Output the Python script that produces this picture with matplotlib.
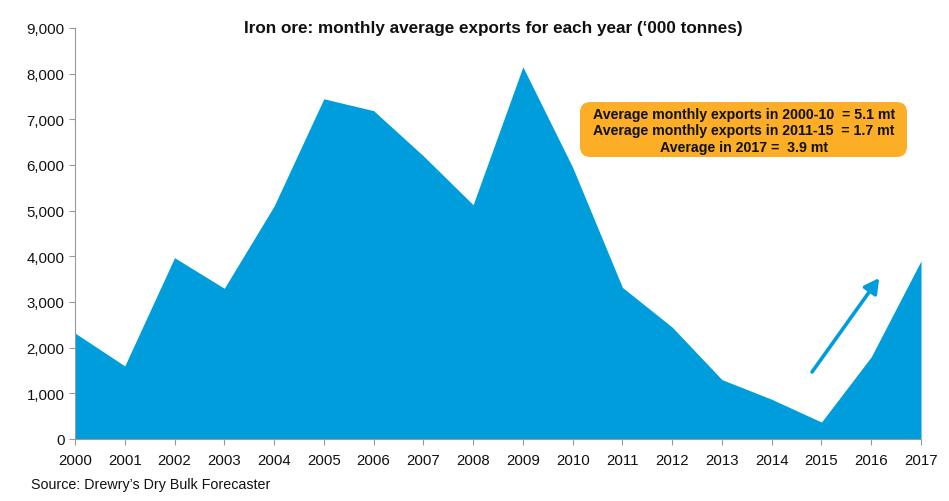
#!/usr/bin/env python3
"""Iron ore monthly average exports, area chart -> out.png"""
import matplotlib
matplotlib.use("Agg")
import matplotlib.pyplot as plt
from matplotlib.patches import FancyBboxPatch

plt.rcParams["font.family"] = ["Liberation Sans", "DejaVu Sans"]

years = [2000, 2001, 2002, 2003, 2004, 2005, 2006, 2007, 2008, 2009, 2010, 2011,
         2012, 2013, 2014, 2015, 2016, 2017]
exports = [2320, 1600, 3970, 3300, 5100, 7450, 7190, 6200, 5130, 8150, 5950, 3320,
           2450, 1300, 870, 370, 1800, 3900]
yticks = [0, 1000, 2000, 3000, 4000, 5000, 6000, 7000, 8000, 9000]
BLUE, ORANGE = "#009DDC", "#FBAE26"

W, H = 949, 502
fig = plt.figure(figsize=(W / 100, H / 100), dpi=100)
ax = fig.add_axes([75 / W, 1 - 440 / H, (921 - 75) / W, (440 - 29) / H])

ax.fill_between(years, exports, color=BLUE, lw=0)
ax.set_xlim(2000, 2017)
ax.set_ylim(0, 9000)
ax.set_xticks(years)
ax.set_yticks(yticks)
ax.set_yticklabels([f"{v:,}" for v in yticks])
ax.tick_params(labelsize=10.8, length=4, color="#999999", labelcolor="#111111")
ax.tick_params(axis="x", pad=6)
ax.spines["top"].set_visible(False)
ax.spines["right"].set_visible(False)
ax.spines["left"].set_color("#999999")
ax.spines["bottom"].set_color("#999999")

fig.text(493 / W, 1 - 28 / H, "Iron ore: monthly average exports for each year (\u2018000 tonnes)",
         ha="center", va="center", fontsize=12.3, fontweight="bold", color="#111111")
fig.text(31 / W, 1 - 485 / H, "Source: Drewry\u2019s Dry Bulk Forecaster",
         ha="left", va="center", fontsize=10.3, color="#111111")

# callout box
box = FancyBboxPatch((580 / W, 1 - 158 / H), 327 / W, 55 / H, transform=fig.transFigure,
                     boxstyle="round,pad=0,rounding_size=0.011", fc=ORANGE, ec="none",
                     mutation_aspect=W / H, zorder=3)
fig.add_artist(box)
notes = ["Average monthly exports in 2000-10  = 5.1 mt",
         "Average monthly exports in 2011-15  = 1.7 mt",
         "Average in 2017 =  3.9 mt"]
for i, line in enumerate(notes):
    fig.text(744 / W, 1 - (115 + 16.5 * i) / H, line, ha="center", va="center",
             fontsize=10.2, fontweight="bold", color="#111111", zorder=4)

# trend arrow
ax.annotate("", xy=(2016.16, 3525), xytext=(2014.81, 1467),
            arrowprops=dict(arrowstyle="-|>,head_width=0.3,head_length=0.55", color=BLUE,
                            lw=2.6, mutation_scale=16, shrinkA=0, shrinkB=0))

fig.savefig("out.png", dpi=100)
